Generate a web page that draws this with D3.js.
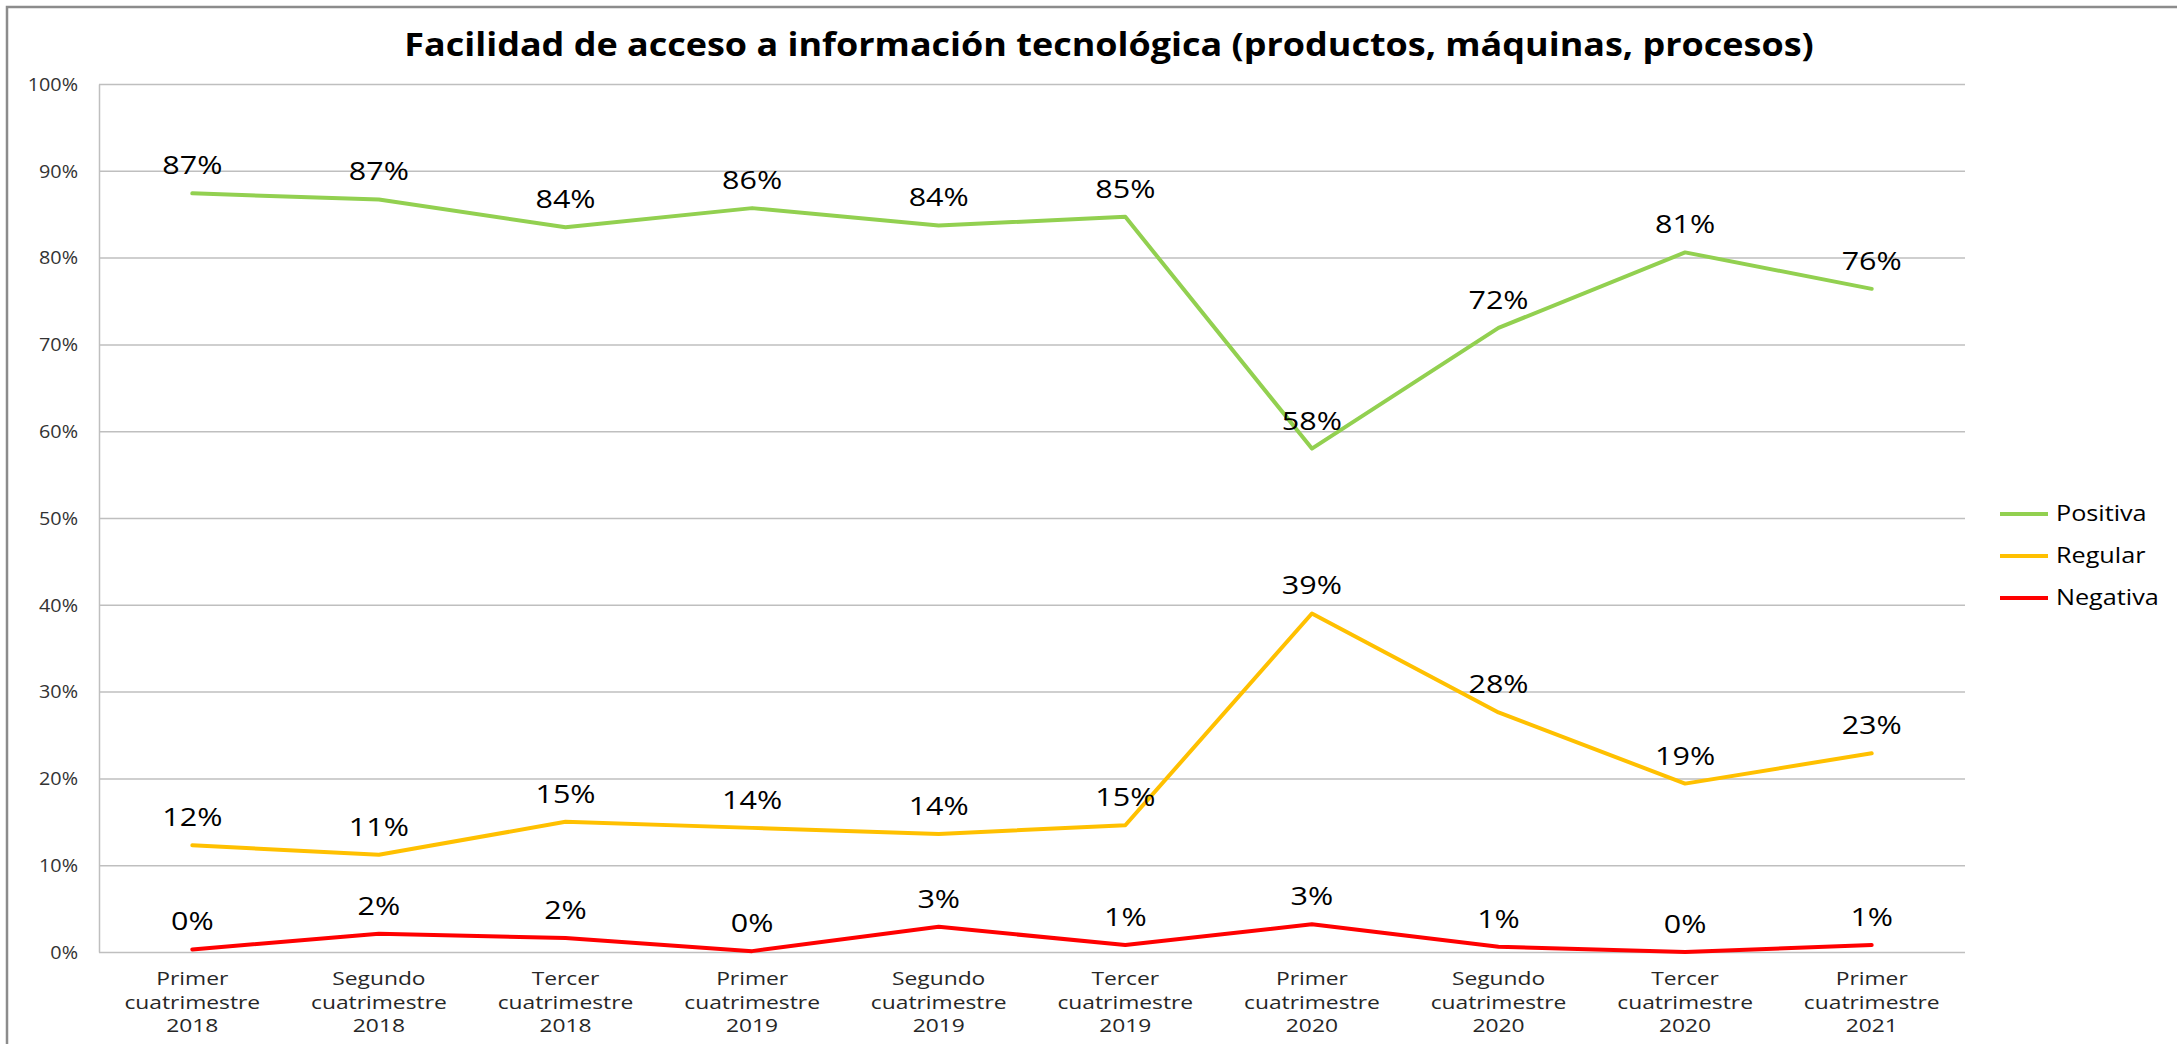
<!DOCTYPE html>
<html lang="es">
<head>
<meta charset="UTF-8">
<title>Facilidad de acceso a información tecnológica</title>
<script src="https://d3js.org/d3.v7.min.js"></script>
<style>
  body { margin: 0; background: #fff; }
  svg { display: block; font-family: "Open Sans", sans-serif; }
</style>
</head>
<body>
<svg width="2177" height="1044"></svg>
<script>
const categories = [
  "Primer cuatrimestre 2018", "Segundo cuatrimestre 2018", "Tercer cuatrimestre 2018",
  "Primer cuatrimestre 2019", "Segundo cuatrimestre 2019", "Tercer cuatrimestre 2019",
  "Primer cuatrimestre 2020", "Segundo cuatrimestre 2020", "Tercer cuatrimestre 2020",
  "Primer cuatrimestre 2021"
];
const seriesNames = ["Positiva", "Regular", "Negativa"];
const positiva = [0.874, 0.867, 0.835, 0.857, 0.837, 0.847, 0.580, 0.719, 0.806, 0.764];
const regular  = [0.123, 0.112, 0.150, 0.143, 0.136, 0.146, 0.390, 0.276, 0.194, 0.229];
const negativa = [0.003, 0.021, 0.016, 0.001, 0.029, 0.008, 0.032, 0.006, 0.000, 0.008];
const colors = ["#92D050", "#FFC000", "#FF0000"];
const yTicks = [0, 0.1, 0.2, 0.3, 0.4, 0.5, 0.6, 0.7, 0.8, 0.9, 1];
const title = "Facilidad de acceso a información tecnológica (productos, máquinas, procesos)";

const svg = d3.select("svg");
const [width, height] = [+svg.attr("width"), +svg.attr("height")];
const margin = {left: 99, right: 212, top: 84, bottom: 92};
const plotW = width - margin.left - margin.right;
const plotH = height - margin.top - margin.bottom;

// outer chart frame (runs past the right and bottom edges)
svg.append("rect")
  .attr("x", 7).attr("y", 7)
  .attr("width", width + 50).attr("height", height + 50)
  .attr("fill", "none").attr("stroke", "#8c8c8c").attr("stroke-width", 2.5);

svg.append("text")
  .attr("transform", `translate(${1109},${56}) scale(1.09,1)`)
  .attr("text-anchor", "middle")
  .attr("font-weight", "bold")
  .attr("font-size", 33)
  .attr("fill", "#000")
  .text(title);

const g = svg.append("g").attr("transform", `translate(${margin.left},${margin.top})`);

const x = d3.scaleBand().domain(categories).range([0, plotW]);
const y = d3.scaleLinear().domain([0, 1]).range([plotH, 0]);
const cx = d => x(d) + x.bandwidth() / 2;

// y axis + gridlines
const yAxis = g.append("g")
  .call(d3.axisLeft(y).tickValues(yTicks).tickFormat(d3.format(".0%")).tickSize(-plotW).tickSizeOuter(0));
yAxis.select(".domain").attr("stroke", "#bfbfbf").attr("stroke-width", 1.5);
yAxis.selectAll(".tick line").attr("stroke", "#bfbfbf").attr("stroke-width", 1.5);
yAxis.selectAll(".tick text")
  .attr("x", null).attr("dy", "0.35em")
  .attr("transform", "translate(-21,0) scale(1.1,1)")
  .attr("font-size", 18).attr("fill", "#333")
  .attr("font-family", "Open Sans, sans-serif");

// x axis labels
const xAxis = g.append("g").attr("transform", `translate(0,${plotH})`)
  .call(d3.axisBottom(x).tickSize(0).tickFormat(""));
xAxis.select(".domain").remove();
xAxis.selectAll(".tick").each(function(d) {
  const parts = d.split(" ");
  const t = d3.select(this);
  parts.forEach((p, i) => {
    t.append("text")
      .attr("transform", `translate(0,${33 + i * 23.5}) scale(1.2,1)`)
      .attr("text-anchor", "middle")
      .attr("font-size", 19)
      .attr("fill", "#262626")
      .attr("font-family", "Open Sans, sans-serif")
      .text(p);
  });
});

// series lines
const seriesValues = [positiva, regular, negativa];
const line = d3.line()
  .x((d, i) => cx(categories[i]))
  .y(d => y(d));

seriesValues.forEach((vals, s) => {
  g.append("path")
    .attr("d", line(vals))
    .attr("fill", "none")
    .attr("stroke", colors[s])
    .attr("stroke-width", 4)
    .attr("stroke-linejoin", "round")
    .attr("stroke-linecap", "round");
});

// data labels
seriesValues.forEach((vals, s) => {
  g.append("g").selectAll("text")
    .data(vals)
    .join("text")
    .attr("transform", (d, i) => `translate(${cx(categories[i])},${y(d) - 19}) scale(1.22,1)`)
    .attr("text-anchor", "middle")
    .attr("font-size", 25)
    .attr("fill", "#000")
    .text(d => d3.format(".0%")(d));
});

// legend
const legend = svg.append("g").attr("transform", "translate(2000,514)");
seriesNames.forEach((name, i) => {
  const row = legend.append("g").attr("transform", `translate(0,${i * 42})`);
  row.append("line")
    .attr("x1", 0).attr("x2", 48)
    .attr("stroke", colors[i]).attr("stroke-width", 4);
  row.append("text")
    .attr("transform", "translate(56,0) scale(1.2,1)")
    .attr("dy", "0.35em")
    .attr("font-size", 21)
    .attr("fill", "#000")
    .text(name);
});
</script>
</body>
</html>
